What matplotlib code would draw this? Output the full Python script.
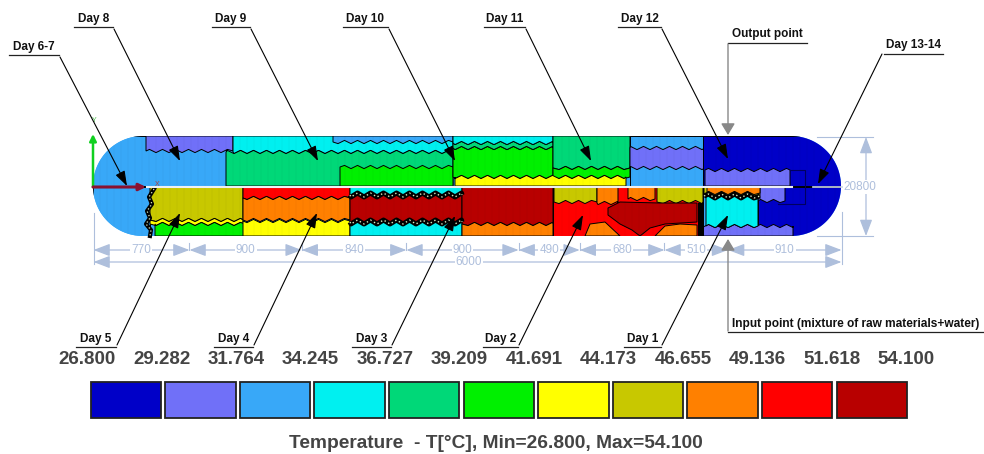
import numpy as np
import matplotlib.pyplot as plt
from matplotlib.patches import Polygon, Rectangle

plt.rcParams['font.family'] = ['Liberation Sans', 'DejaVu Sans']

# temperature legend
legend_values = ['26.800', '29.282', '31.764', '34.245', '36.727', '39.209',
                 '41.691', '44.173', '46.655', '49.136', '51.618', '54.100']
BL, PU, LB, CY, SG, GR, YE, OL, OR, RE, DR = ['#0000c8', '#7070f8', '#38a8f8', '#00f0f0', '#00d878',
                                              '#00f000', '#ffff00', '#c8c800', '#ff8000', '#ff0000', '#b80000']
legend_colors = [BL, PU, LB, CY, SG, GR, YE, OL, OR, RE, DR]
legend_title = 'Temperature  - T[°C], Min=26.800, Max=54.100'

# section lengths along the reactor (mm)
section_lengths = [770, 900, 840, 900, 490, 680, 510, 910]
total_length = 6000
reactor_height = '20800'

# temperature zones: colour, x0, x1, y top, y bottom (picture pixels), back to front
upper_zones = [
    (LB, 93, 226, 136, 186), (PU, 146, 233, 136, 151), (CY, 233, 453, 136, 152),
    (SG, 226, 453, 152, 186), (LB, 333, 453, 136, 142), (GR, 340, 453, 167, 186),
    (GR, 453, 553, 148, 177), (SG, 453, 553, 143, 148), (CY, 453, 553, 136, 143),
    (SG, 553, 630, 136, 168), (GR, 553, 630, 168, 177), (YE, 455, 626, 177, 186),
    (LB, 630, 705, 136, 186), (PU, 630, 705, 148, 168), (BL, 703, 841, 136, 186),
    (PU, 705, 790, 170, 186),
]
lower_zones = [
    (LB, 93, 150, 187, 236), (OL, 150, 243, 187, 220), (YE, 150, 243, 220, 224),
    (GR, 155, 245, 224, 236), (RE, 243, 350, 187, 198), (OR, 243, 350, 198, 220),
    (YE, 243, 350, 221, 236), (CY, 350, 462, 187, 195), (DR, 350, 462, 195, 222),
    (CY, 350, 462, 222, 236), (DR, 462, 553, 187, 224), (OR, 462, 553, 224, 236),
    (RE, 553, 703, 187, 236), (OL, 554, 597, 187, 202), (OR, 597, 618, 187, 203),
    (OR, 628, 655, 187, 199), (OL, 657, 703, 187, 202), (BL, 758, 841, 187, 236),
    (PU, 758, 785, 187, 201), (PU, 700, 793, 226, 236), (OL, 704, 760, 187, 197),
    (OR, 707, 760, 187, 193), (CY, 706, 758, 197, 226),
]
# zones with a rounded outline: colour, xs, ys
shaped_zones = [
    (DR, [608, 620, 660, 697, 697, 665, 650, 640, 632, 620, 608],
     [208, 202, 203, 203, 222, 224, 228, 236, 230, 224, 215]),
    (OR, [585, 590, 605, 620], [236, 224, 222, 236]),
    (OR, [655, 665, 680, 697, 697], [236, 226, 224, 225, 236]),
]
# speckled black fronts: x0, x1, y
speckle_fronts = [(350, 462, 195), (350, 462, 222), (704, 760, 196)]
speckle_side_x = [154, 149, 152, 147, 150, 146, 151, 150]
speckle_side_y = [189, 197, 204, 211, 218, 224, 230, 236]
front_black_x = [698, 704]
front_black_y = [203, 236]
hot_spot_x = [790, 805, 805, 790, 778]
hot_spot_y = [170, 170, 204, 204, 204]

# leader labels: text, underline x0, x1, y, tip x, tip y
day_labels = [
    ('Day 6-7', 9, 59, 55, 127, 186), ('Day 8', 74, 113, 27, 180, 161),
    ('Day 9', 212, 250, 27, 318, 161), ('Day 10', 343, 388, 27, 455, 161),
    ('Day 11', 484, 525, 27, 591, 161), ('Day 12', 618, 661, 27, 728, 159),
    ('Day 5', 76, 116, 347, 180, 213), ('Day 4', 214, 253, 347, 317, 213),
    ('Day 3', 352, 391, 347, 455, 216), ('Day 2', 483, 518, 347, 583, 215),
    ('Day 1', 624, 661, 347, 728, 215),
]

# one axes in picture pixels
fig = plt.figure(figsize=(9.84, 4.54), dpi=100)
ax = fig.add_axes([0, 0, 1, 1])
ax.set_xlim(0, 984)
ax.set_ylim(454, 0)
ax.axis('off')

# stadium outline of the vessel
ang = np.linspace(-np.pi / 2, np.pi / 2, 60)
cap_r = 50
outline = np.vstack([
    np.column_stack([791 + cap_r * np.cos(ang), 186 + cap_r * np.sin(ang)]),
    np.column_stack([143 - cap_r * np.cos(ang[::-1]), 186 + cap_r * np.sin(ang[::-1])]),
])
vessel = Polygon(outline, closed=True, facecolor=LB, edgecolor='none')
ax.add_patch(vessel)


def wavy(x0, x1, y, amp=1.6, step=6.5):
    # zigzag front between two zones, phase fixed to x so neighbours line up
    k = np.arange(np.ceil(x0 / step), np.floor(x1 / step) + 1)
    xs = np.concatenate([[x0], k * step, [x1]])
    ys = np.concatenate([[y], y + amp * np.where(k % 2 == 0, 1, -1), [y]])
    return xs, ys


def draw_zone(color, x0, x1, ytop, ybot):
    # outer wall and mid line stay straight
    if ytop in (136, 187):
        top = [(x0, ytop), (x1, ytop)]
    else:
        top = list(zip(*wavy(x0, x1, ytop)))
    if ybot in (186, 236):
        bottom = [(x1, ybot), (x0, ybot)]
    else:
        bottom = list(zip(*wavy(x0, x1, ybot)))[::-1]
    p = Polygon(top + bottom, closed=True, facecolor=color, edgecolor='black', linewidth=0.7)
    ax.add_patch(p)
    p.set_clip_path(vessel)


for z in upper_zones + lower_zones:
    draw_zone(*z)
for col, xs, ys in shaped_zones:
    p = Polygon(np.column_stack([xs, ys]), closed=True, facecolor=col, edgecolor='black', linewidth=0.7)
    ax.add_patch(p)
    p.set_clip_path(vessel)

# faint mesh
for xm in np.arange(93, 841, 7):
    ax.plot([xm, xm], [136, 236], color='black', lw=0.3, alpha=0.08, clip_path=vessel)

for x0, x1, y in speckle_fronts:
    xs, ys = wavy(x0, x1, y, amp=2.0)
    ax.plot(xs, ys, color='black', lw=3.6, solid_capstyle='butt')
    ax.plot(xs, ys, color='#d8e8c0', lw=1.0, ls=(0, (1, 2)))
ax.plot(speckle_side_x, speckle_side_y, color='black', lw=3.0)
ax.plot(speckle_side_x, speckle_side_y, color='#d8e8c0', lw=0.9, ls=(0, (1, 2)))
ax.add_patch(Rectangle((front_black_x[0], front_black_y[0]), front_black_x[1] - front_black_x[0],
                       front_black_y[1] - front_black_y[0], color='black', lw=0))
ax.plot(hot_spot_x, hot_spot_y, color='#000060', lw=0.8)

# mid line through the vessel
ax.plot([147, 792], [186.5, 186.5], color='#eef0f4', lw=1.5)
ax.plot([813, 866], [186.5, 186.5], color='#c8d4ea', lw=1.2)

# coordinate axes
ax.annotate('', xy=(93, 134), xytext=(93, 187),
            arrowprops=dict(arrowstyle='-|>', color='#10d020', lw=1.8, mutation_scale=10, shrinkA=0, shrinkB=0))
ax.annotate('', xy=(146, 187), xytext=(93, 187),
            arrowprops=dict(arrowstyle='-|>', color='#8a1030', lw=2.2, mutation_scale=10, shrinkA=0, shrinkB=0))
ax.text(94, 120, 'Y', color='#50c050', fontsize=5, ha='center', va='center')
ax.text(157, 185, 'X', color='#b04040', fontsize=5, ha='center', va='center')

# dimension lines
DIM = '#aebfdc'
scale = 748 / total_length
edges = 93.5 + np.cumsum([0] + section_lengths) * scale
DIM_STYLE = '<|-|>,head_length=1.0,head_width=0.38'


def dim_arrow(x0, y0, x1, y1):
    ax.annotate('', xy=(x1, y1), xytext=(x0, y0),
                arrowprops=dict(arrowstyle=DIM_STYLE, color=DIM, lw=0.9, mutation_scale=10, shrinkA=0, shrinkB=0))


for i, length in enumerate(section_lengths):
    dim_arrow(edges[i], 250, edges[i + 1], 250)
    ax.text((edges[i] + edges[i + 1]) / 2, 250, str(length), color=DIM, fontsize=8.5, ha='center', va='center',
            bbox=dict(facecolor='white', edgecolor='none', pad=0.8))
    if i > 0:
        ax.plot([edges[i], edges[i]], [243, 250], color=DIM, lw=0.8)
dim_arrow(edges[0], 262, edges[-1], 262)
ax.text(469, 262, str(total_length), color=DIM, fontsize=8.5, ha='center', va='center',
        bbox=dict(facecolor='white', edgecolor='none', pad=0.8))
ax.plot([edges[0], edges[0]], [213, 264], color=DIM, lw=0.8)
ax.plot([edges[-1], edges[-1]], [212, 264], color=DIM, lw=0.8)
ax.plot([817, 873], [136.5, 136.5], color=DIM, lw=0.8)
ax.plot([817, 873], [236, 236], color=DIM, lw=0.8)
dim_arrow(866, 137, 866, 236)
ax.text(860, 187, reactor_height, color=DIM, fontsize=8.5, ha='center', va='center',
        bbox=dict(facecolor='white', edgecolor='none', pad=0.6))

# day leaders
HEAD = '-|>,head_length=0.65,head_width=0.22'
for text, ux0, ux1, uy, tx, ty in day_labels:
    ax.plot([ux0, ux1], [uy, uy], color='#222222', lw=0.9)
    ax.text((ux0 + ux1) / 2, uy - 2, text, fontsize=8.5, fontweight='bold', ha='center', va='bottom', color='#111111')
    ax.annotate('', xy=(tx, ty), xytext=(ux1 + 1, uy + (2 if uy < 100 else -2)),
                arrowprops=dict(arrowstyle=HEAD, color='black', lw=0.8, mutation_scale=14, shrinkA=0, shrinkB=0))

ax.plot([884, 943], [53.5, 53.5], color='#222222', lw=0.9)
ax.text(913, 51, 'Day 13-14', fontsize=8.5, fontweight='bold', ha='center', va='bottom', color='#111111')
ax.annotate('', xy=(818, 184), xytext=(882, 54),
            arrowprops=dict(arrowstyle=HEAD, color='black', lw=0.8, mutation_scale=14, shrinkA=0, shrinkB=0))

ax.plot([728, 807], [42.5, 42.5], color='#222222', lw=0.9)
ax.text(732, 40, 'Output point', fontsize=8.5, fontweight='bold', ha='left', va='bottom', color='#111111')
ax.annotate('', xy=(728, 135), xytext=(728, 44),
            arrowprops=dict(arrowstyle='-|>,head_length=0.5,head_width=0.3', color='#888888', lw=1.0,
                            mutation_scale=14, shrinkA=0, shrinkB=0))

ax.plot([728, 984], [332, 332], color='#222222', lw=0.9)
ax.text(732, 330, 'Input point (mixture of raw materials+water)', fontsize=8.6, fontweight='bold',
        ha='left', va='bottom', color='#111111')
ax.annotate('', xy=(728, 239), xytext=(728, 331),
            arrowprops=dict(arrowstyle='-|>,head_length=0.5,head_width=0.3', color='#888888', lw=1.0,
                            mutation_scale=14, shrinkA=0, shrinkB=0))

# colour legend
for i, (val, col) in enumerate(zip(legend_values, legend_colors + [None])):
    ax.text(87 + i * 74.5, 360, val, fontsize=13.5, fontweight='bold', color='#444444', ha='center', va='center')
    if col is not None:
        ax.add_patch(Rectangle((90.5 + i * 74.6, 381.5), 70.5, 36.5, facecolor=col, edgecolor='#222222', linewidth=1.3))

ax.text(496, 443, legend_title, fontsize=13.8, fontweight='bold', color='#444444', ha='center', va='center')

fig.savefig('out.png', dpi=100)
